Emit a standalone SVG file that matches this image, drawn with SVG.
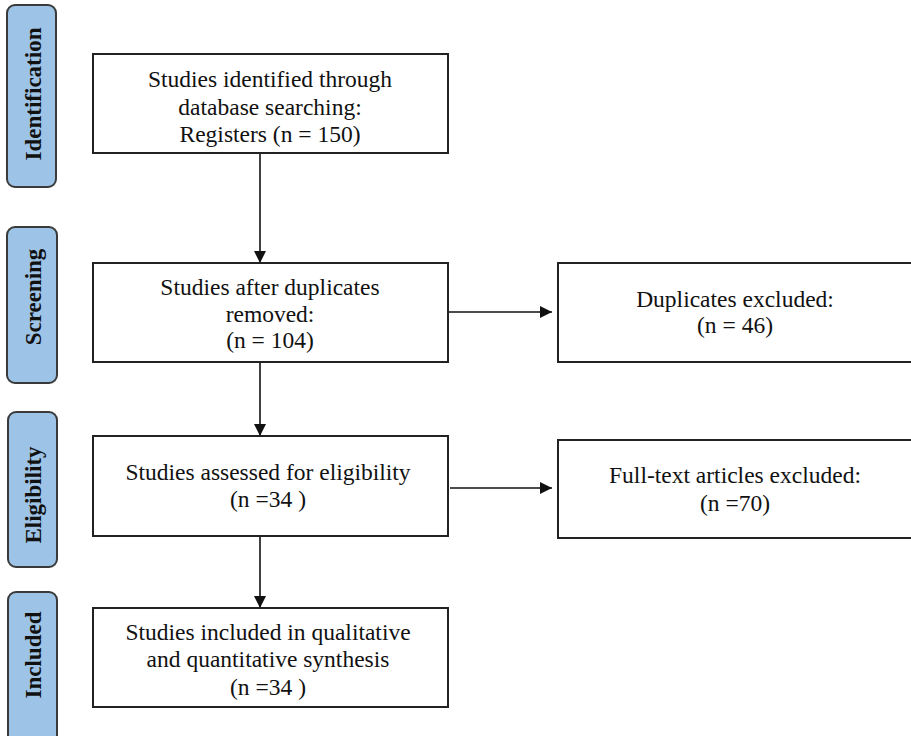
<svg xmlns="http://www.w3.org/2000/svg" width="911" height="736" viewBox="0 0 911 736">
<style>
.stage{fill:#9dc3e6;stroke:#3a3a3a;stroke-width:2}
.stxt{font-family:"Liberation Serif",serif;font-weight:bold;font-size:23px;fill:#111;text-anchor:middle}
.box{fill:#fff;stroke:#222;stroke-width:2}
.t{font-family:"Liberation Serif",serif;font-size:23.5px;fill:#111;text-anchor:middle}
.c{stroke:#111;stroke-width:1.6;fill:none}
</style>
<defs>
<marker id="ah" viewBox="0 0 12 12" refX="12" refY="6" markerWidth="12" markerHeight="12" markerUnits="userSpaceOnUse" orient="auto">
<path d="M0,0 L12,6 L0,12 Z" fill="#111"/>
</marker>
</defs>
<rect width="911" height="736" fill="#fff"/>
<g id="stage-identification">
<rect class="stage" x="7" y="5" width="49" height="182" rx="8"/>
<text class="stxt" transform="translate(41,94) rotate(-90)">Identification</text>
</g>
<g id="stage-screening">
<rect class="stage" x="7" y="227" width="50" height="156" rx="8"/>
<text class="stxt" transform="translate(41,297) rotate(-90)">Screening</text>
</g>
<g id="stage-eligibility">
<rect class="stage" x="8" y="412" width="49" height="155" rx="8"/>
<text class="stxt" transform="translate(41,495) rotate(-90)">Eligibility</text>
</g>
<g id="stage-included">
<rect class="stage" x="8" y="592" width="49" height="160" rx="8"/>
<text class="stxt" transform="translate(41,655) rotate(-90)">Included</text>
</g>
<g id="connectors">
<line class="c" x1="260" y1="153" x2="260" y2="263" marker-end="url(#ah)"/>
<line class="c" x1="260" y1="362" x2="260" y2="436" marker-end="url(#ah)"/>
<line class="c" x1="260" y1="536" x2="260" y2="608" marker-end="url(#ah)"/>
<line class="c" x1="448" y1="312" x2="552" y2="312" marker-end="url(#ah)"/>
<line class="c" x1="450" y1="488" x2="552" y2="488" marker-end="url(#ah)"/>
</g>
<g id="n1">
<rect class="box" x="93" y="54" width="355" height="99"/>
<text class="t" x="270" y="87">Studies identified through</text>
<text class="t" x="270" y="115">database searching:</text>
<text class="t" x="270" y="142">Registers (n = 150)</text>
</g>
<g id="n2">
<rect class="box" x="93" y="263" width="355" height="99"/>
<text class="t" x="270" y="295">Studies after duplicates</text>
<text class="t" x="270" y="322">removed:</text>
<text class="t" x="270" y="348">(n = 104)</text>
</g>
<g id="n3">
<rect class="box" x="558" y="263" width="360" height="99"/>
<text class="t" x="735" y="307">Duplicates excluded:</text>
<text class="t" x="735" y="333">(n = 46)</text>
</g>
<g id="n4">
<rect class="box" x="93" y="436" width="355" height="100"/>
<text class="t" x="268" y="480">Studies assessed for eligibility</text>
<text class="t" x="268" y="507">(n =34 )</text>
</g>
<g id="n5">
<rect class="box" x="558" y="440" width="360" height="98"/>
<text class="t" x="735" y="483">Full-text articles excluded:</text>
<text class="t" x="735" y="511">(n =70)</text>
</g>
<g id="n6">
<rect class="box" x="93" y="608" width="355" height="99"/>
<text class="t" x="268" y="640">Studies included in qualitative</text>
<text class="t" x="268" y="667">and quantitative synthesis</text>
<text class="t" x="268" y="695">(n =34 )</text>
</g>
</svg>
